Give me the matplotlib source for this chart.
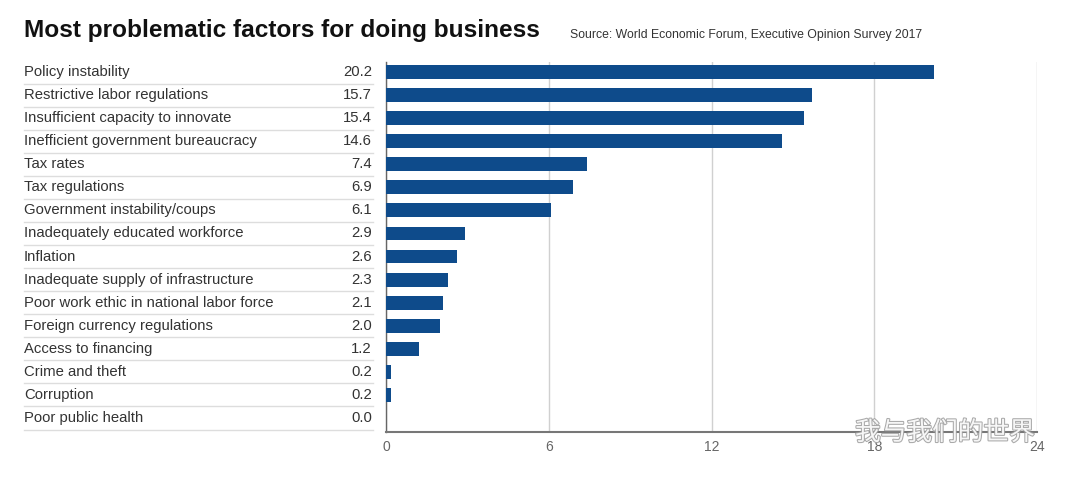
import matplotlib
matplotlib.use("Agg")
import matplotlib.pyplot as plt
import matplotlib.patheffects as pe

categories = [
    "Policy instability",
    "Restrictive labor regulations",
    "Insufficient capacity to innovate",
    "Inefficient government bureaucracy",
    "Tax rates",
    "Tax regulations",
    "Government instability/coups",
    "Inadequately educated workforce",
    "Inflation",
    "Inadequate supply of infrastructure",
    "Poor work ethic in national labor force",
    "Foreign currency regulations",
    "Access to financing",
    "Crime and theft",
    "Corruption",
    "Poor public health",
]
values = [20.2, 15.7, 15.4, 14.6, 7.4, 6.9, 6.1, 2.9, 2.6, 2.3, 2.1, 2.0, 1.2, 0.2, 0.2, 0.0]
xticks = [0, 6, 12, 18, 24]

plt.rcParams['font.family'] = ['Liberation Sans', 'DejaVu Sans']

W, H = 1080, 482
fig = plt.figure(figsize=(W / 100, H / 100), dpi=100)
fig.patch.set_facecolor('white')

ax_left, ax_right, ax_top, ax_bot = 386, 1037, 62, 432
ax = fig.add_axes([ax_left / W, 1 - ax_bot / H, (ax_right - ax_left) / W, (ax_bot - ax_top) / H])

n = len(categories)
ypos = list(range(n))
ax.barh(ypos, values, height=0.6, color='#0e4b8b', zorder=3)
ax.set_xlim(0, 24)
ax.set_ylim(n - 1 + 0.607, -0.433)

ax.set_xticks(xticks)
ax.set_xticklabels([str(t) for t in xticks], color='#666666', fontsize=10)
ax.tick_params(axis='x', length=0, pad=6)
ax.set_yticks([])
ax.grid(axis='x', color='#d0d0d0', linewidth=1, zorder=0)
for s in ['top', 'right']:
    ax.spines[s].set_visible(False)
ax.spines['left'].set_color('#666666')
ax.spines['bottom'].set_color('#777777')
ax.spines['left'].set_linewidth(1.0)
ax.spines['bottom'].set_linewidth(1.5)

tr = ax.get_yaxis_transform()
span = ax_right - ax_left
lab_x = (24 - ax_left) / span
val_x = (372 - ax_left) / span
sep_r = (373 - ax_left) / span
for i, (c, v) in enumerate(zip(categories, values)):
    ax.text(lab_x, i, c, transform=tr, ha='left', va='center', fontsize=10.75, color='#333333')
    ax.text(val_x, i, f"{v:.1f}", transform=tr, ha='right', va='center', fontsize=10.75, color='#333333')
    ax.plot([lab_x, sep_r], [i + 0.5, i + 0.5], transform=tr, color='#dddddd', linewidth=1, clip_on=False)

fig.text(24 / W, 1 - 30 / H, "Most problematic factors for doing business", ha='left', va='center',
         fontsize=17.6, fontweight='bold', color='#111111')
fig.text(570 / W, 1 - 35 / H, "Source: World Economic Forum, Executive Opinion Survey 2017", ha='left',
         va='center', fontsize=8.8, color='#333333')

fig.text(855 / W, 1 - 433 / H, "我与我们的世界", ha='left', va='center', fontsize=18.5,
         family=['Noto Sans CJK SC', 'DejaVu Sans'], color='white', alpha=0.9,
         path_effects=[pe.withStroke(linewidth=1.5, foreground='#a0a0a0')])

fig.savefig("out.png", dpi=100, facecolor='white')
